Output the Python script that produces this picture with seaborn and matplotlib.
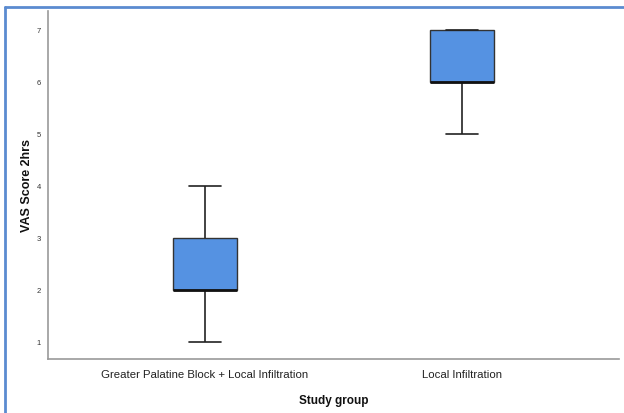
import matplotlib
matplotlib.use("Agg")
import matplotlib.pyplot as plt
from matplotlib.lines import Line2D
import seaborn as sns
import pandas as pd
from matplotlib import font_manager

categories = ["Greater Palatine Block + Local Infiltration", "Local Infiltration"]
group1_scores = [1, 2, 2, 2, 2, 2, 3, 3, 3, 4]
group2_scores = [5, 6, 6, 6, 6, 6, 7, 7, 7, 7]
y_ticks = [1, 2, 3, 4, 5, 6, 7]

df = pd.DataFrame({
    "Study group": [categories[0]] * len(group1_scores) + [categories[1]] * len(group2_scores),
    "VAS Score 2hrs": group1_scores + group2_scores,
})

sns.set_theme(style="white")
names = {f.name for f in font_manager.fontManager.ttflist}
narrow = "Liberation Sans Narrow" if "Liberation Sans Narrow" in names else "Liberation Sans"
plt.rcParams["font.family"] = ["Liberation Sans", "DejaVu Sans"]

fig = plt.figure(figsize=(6.24, 4.14), dpi=100)
ax = fig.add_axes([48 / 624, 54 / 414, 571 / 624, 348 / 414])

sns.boxplot(
    data=df, x="Study group", y="VAS Score 2hrs", order=categories, ax=ax,
    color="#5592E2", width=0.25, saturation=1, showfliers=False,
    boxprops=dict(edgecolor="#333333", linewidth=1.0),
    whiskerprops=dict(color="#222222", linewidth=1.2),
    capprops=dict(color="#222222", linewidth=1.2),
    medianprops=dict(color="#111111", linewidth=2.0),
)

ax.set_xlim(-0.611, 1.611)
ax.set_ylim(0.673, 7.365)
ax.set_yticks(y_ticks)
ax.set_yticklabels([str(v) for v in y_ticks], fontsize=5.5, color="#333333")
ax.tick_params(axis="both", length=0)
ax.tick_params(axis="y", pad=5)
ax.tick_params(axis="x", pad=7)
for lab in ax.get_xticklabels():
    lab.set_fontsize(8.2 if narrow == "Liberation Sans" else 9.5)
    lab.set_fontfamily(narrow)
    lab.set_color("#222222")

ax.set_xlabel("Study group", fontsize=8.5, fontweight="bold", labelpad=11, color="#111111")
ax.set_ylabel("VAS Score 2hrs", fontsize=9, fontweight="bold", color="#111111")
ax.yaxis.set_label_coords((33 - 48) / 571, 0.5)

for side in ["top", "right"]:
    ax.spines[side].set_visible(False)
for side in ["left", "bottom"]:
    ax.spines[side].set_color("#999999")
    ax.spines[side].set_linewidth(1.2)

border_color = "#5B8BD0"
fig.add_artist(Line2D([5 / 624, 1.01], [1 - 8 / 414, 1 - 8 / 414], color=border_color, linewidth=2.0, transform=fig.transFigure))
fig.add_artist(Line2D([5 / 624, 5 / 624], [-0.01, 1 - 8 / 414], color=border_color, linewidth=2.0, transform=fig.transFigure))

fig.savefig("out.png", dpi=100)
